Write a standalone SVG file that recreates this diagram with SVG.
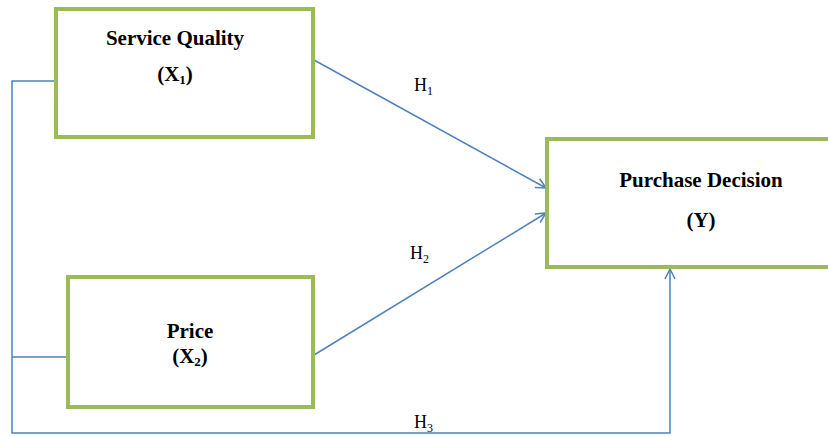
<svg xmlns="http://www.w3.org/2000/svg" width="828" height="437" viewBox="0 0 828 437">
<style>
.box{fill:#fff;stroke:#9BBB59;stroke-width:4}
.t{font-family:'Liberation Serif','Times New Roman','DejaVu Serif',serif;font-weight:bold;font-size:21px;fill:#000;text-anchor:middle}
.h{font-family:'Liberation Serif','Times New Roman','DejaVu Serif',serif;font-size:18px;fill:#000}
.c{fill:none;stroke:#4F81BD;stroke-width:1.5}
</style>
<defs>
<marker id="arr" viewBox="0 0 12 12" refX="11" refY="6" markerWidth="12" markerHeight="12" markerUnits="userSpaceOnUse" orient="auto">
<path d="M1,1 L11,6 L1,11" fill="none" stroke="#4F81BD" stroke-width="1.5"/>
</marker>
</defs>
<g id="connectors">
<polyline class="c" points="56,81 12,81 12,433 670,433 670,269" marker-end="url(#arr)"/>
<line class="c" x1="12" y1="357" x2="68" y2="357"/>
<line class="c" x1="314" y1="60" x2="546" y2="188" marker-end="url(#arr)"/>
<line class="c" x1="314" y1="355" x2="546" y2="213" marker-end="url(#arr)"/>
<text class="h" x="414" y="91">H<tspan font-size="12" dy="4">1</tspan></text>
<text class="h" x="410" y="259">H<tspan font-size="12" dy="4">2</tspan></text>
<text class="h" x="414" y="428">H<tspan font-size="12" dy="4">3</tspan></text>
</g>
<g id="service-quality">
<rect class="box" x="56" y="9" width="257" height="128"/>
<text class="t" x="175" y="45">Service Quality</text>
<text class="t" x="175" y="81">(X<tspan font-size="13" dy="3">1</tspan><tspan dy="-3">)</tspan></text>
</g>
<g id="price">
<rect class="box" x="68" y="277" width="245" height="130"/>
<text class="t" x="190" y="338">Price</text>
<text class="t" x="190" y="363">(X<tspan font-size="13" dy="3">2</tspan><tspan dy="-3">)</tspan></text>
</g>
<g id="purchase-decision">
<rect class="box" x="547" y="139" width="290" height="128"/>
<text class="t" x="701" y="187">Purchase Decision</text>
<text class="t" x="701" y="227">(Y)</text>
</g>
</svg>
